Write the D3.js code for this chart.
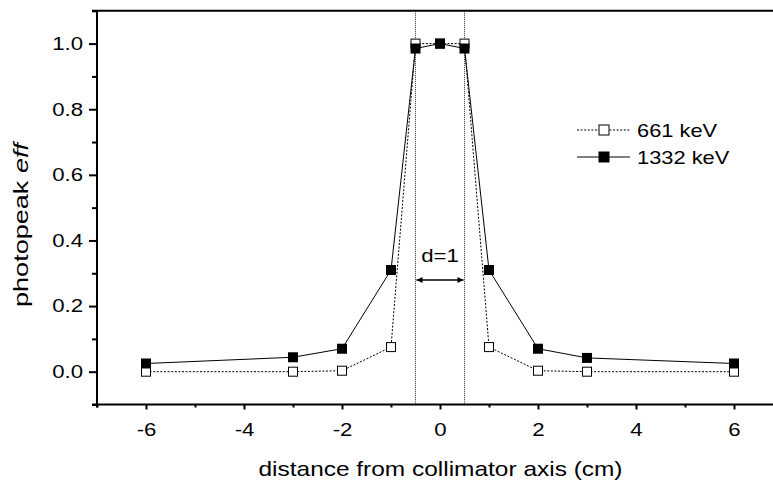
<!DOCTYPE html>
<html><head><meta charset="utf-8">
<script src="https://cdn.jsdelivr.net/npm/d3@7"></script>
<style>body{margin:0;background:#fff}svg{display:block}text{font-family:"Liberation Sans",Arial,sans-serif}</style>
</head><body><svg id="c" width="773" height="483"></svg>
<script>
const xValues = [-6, -3, -2, -1, -0.5, 0, 0.5, 1, 2, 3, 6];
const eff661 = [0.0, 0.0, 0.003, 0.075, 1.0, 1.0, 1.0, 0.075, 0.003, 0.0, 0.0];
const eff1332 = [0.025, 0.044, 0.07, 0.31, 0.985, 1.0, 0.985, 0.31, 0.07, 0.042, 0.025];
const seriesNames = ["661 keV", "1332 keV"];
const xTicks = [-6, -4, -2, 0, 2, 4, 6];
const yTicks = [0.0, 0.2, 0.4, 0.6, 0.8, 1.0];
const markerLines = [-0.5, 0.5];

const FONT = "'Liberation Sans',Arial,sans-serif";
function stretch(sel, factor) {
  sel.each(function () {
    const w = this.getComputedTextLength();
    this.setAttribute("textLength", (w * factor).toFixed(2));
    this.setAttribute("lengthAdjust", "spacingAndGlyphs");
  });
}

const svg = d3.select("#c");
const x = d3.scaleLinear().domain([-7, 7]).range([97, 783]);
const y = d3.scaleLinear().domain([-0.1, 1.1]).range([404.5, 10.8]);
const L = 97, B = y(-0.1), T = y(1.1), R = 783;

// vertical dotted lines
svg.selectAll(".vl").data(markerLines).enter().append("line")
  .attr("x1", d => x(d)).attr("x2", d => x(d)).attr("y1", T).attr("y2", B)
  .attr("stroke", "#333").attr("stroke-width", 1).attr("stroke-dasharray", "1,1");

// axes
const xAxis = d3.axisBottom(x).tickValues(xTicks).tickSize(5).tickPadding(13)
  .tickFormat(d => String(d));
const gx = svg.append("g").attr("transform", `translate(0,${B})`).call(xAxis);
const xMinor = d3.axisBottom(x).tickValues(d3.range(-7, 8, 1).filter(v => !xTicks.includes(v))).tickSize(3).tickFormat("");
const gxm = svg.append("g").attr("transform", `translate(0,${B})`).call(xMinor);
const yAxis = d3.axisLeft(y).tickValues(yTicks).tickSize(8).tickPadding(6).tickFormat(d3.format(".1f"));
const gy = svg.append("g").attr("transform", `translate(${L},0)`).call(yAxis);
const yMinor = d3.axisLeft(y).tickValues([-0.1, 0.1, 0.3, 0.5, 0.7, 0.9, 1.1]).tickSize(5).tickFormat("");
const gym = svg.append("g").attr("transform", `translate(${L},0)`).call(yMinor);
[gx, gxm, gy, gym].forEach(g => {
  g.select(".domain").attr("stroke-width", 2).attr("stroke", "#000");
  g.selectAll(".tick line").attr("stroke-width", 2).attr("stroke", "#000");
  g.selectAll("text").attr("font-size", 18.5).attr("fill", "#000").style("font-family", FONT);
});
gx.select(".domain").attr("d", `M${L - 5},0H${R}`);
gxm.select(".domain").remove();
gy.select(".domain").attr("d", `M0,${B + 3}V${T}`);
gym.select(".domain").remove();
stretch(gx.selectAll("text"), 1.2);
stretch(gy.selectAll("text"), 1.2);
// top border
svg.append("line").attr("x1", L - 5).attr("x2", R).attr("y1", T).attr("y2", T)
  .attr("stroke", "#000").attr("stroke-width", 2);

// series
const line = d3.line().x(d => x(d[0])).y(d => y(d[1]));
const d661 = xValues.map((v, i) => [v, eff661[i]]);
const d1332 = xValues.map((v, i) => [v, eff1332[i]]);
svg.append("path").datum(d661).attr("d", line).attr("fill", "none").attr("stroke", "#000")
  .attr("stroke-width", 1).attr("stroke-dasharray", "2,1.6");
svg.selectAll(".m661").data(d661).enter().append("rect")
  .attr("x", d => x(d[0]) - 4.5).attr("y", d => y(d[1]) - 4.5).attr("width", 9).attr("height", 9)
  .attr("fill", "#fff").attr("stroke", "#000").attr("stroke-width", 1);
svg.append("path").datum(d1332).attr("d", line).attr("fill", "none").attr("stroke", "#000").attr("stroke-width", 1);
svg.selectAll(".m1332").data(d1332).enter().append("rect")
  .attr("x", d => x(d[0]) - 5).attr("y", d => y(d[1]) - 5).attr("width", 10).attr("height", 10)
  .attr("fill", "#000");

// arrow d=1
const defs = svg.append("defs");
defs.append("marker").attr("id", "ah").attr("viewBox", "0 0 10 10").attr("refX", 10).attr("refY", 5)
  .attr("markerWidth", 9).attr("markerHeight", 6).attr("markerUnits", "userSpaceOnUse").attr("orient", "auto-start-reverse")
  .append("path").attr("d", "M0,0L10,5L0,10z").attr("fill", "#000");
svg.append("line").attr("x1", x(-0.5) + 1).attr("x2", x(0.5) - 1).attr("y1", 280).attr("y2", 280)
  .attr("stroke", "#000").attr("stroke-width", 1.6)
  .attr("marker-start", "url(#ah)").attr("marker-end", "url(#ah)");
const dl = svg.append("text").attr("x", x(0)).attr("y", 262).attr("text-anchor", "middle").attr("font-size", 18.5).text("d=1");
stretch(dl, 1.2);

// legend
const lg = [{y: 130, dash: "2,1.6", fill: "#fff", name: seriesNames[0]}, {y: 157, dash: null, fill: "#000", name: seriesNames[1]}];
lg.forEach(e => {
  svg.append("line").attr("x1", 577).attr("x2", 630).attr("y1", e.y).attr("y2", e.y)
    .attr("stroke", "#000").attr("stroke-width", 1).attr("stroke-dasharray", e.dash);
  svg.append("rect").attr("x", 599).attr("y", e.y - 5).attr("width", 10).attr("height", 10)
    .attr("fill", e.fill).attr("stroke", "#000").attr("stroke-width", 1);
  const t = svg.append("text").attr("x", 637).attr("y", e.y + 6.6).attr("font-size", 18.5).text(e.name);
  stretch(t, 1.18);
});

// axis titles
const xt = svg.append("text").attr("x", 440.5).attr("y", 476).attr("text-anchor", "middle").attr("font-size", 21)
  .text("distance from collimator axis (cm)");
xt.attr("textLength", 364).attr("lengthAdjust", "spacingAndGlyphs");
const yt = svg.append("text").attr("transform", `translate(28,225) rotate(-90)`)
  .attr("text-anchor", "middle").attr("font-size", 21)
  .attr("textLength", 164).attr("lengthAdjust", "spacingAndGlyphs");
yt.append("tspan").text("photopeak ");
yt.append("tspan").attr("font-style", "italic").text("eff");
</script></body></html>
